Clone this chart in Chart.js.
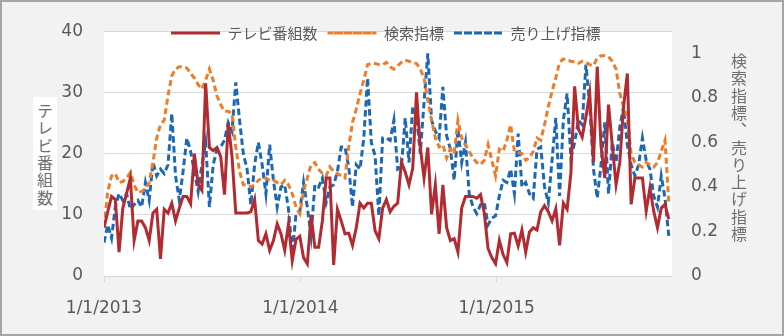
<!DOCTYPE html>
<html lang="ja">
<head>
    <meta charset="UTF-8">
    <title>テレビ番組数と検索指標・売り上げ指標</title>
    <script src="https://cdn.jsdelivr.net/npm/chart.js"></script>
    <style>
        body {
            margin: 0;
            background: #ffffff;
        }
        #wrap {
            position: relative;
            width: 784px;
            height: 336px;
        }
        .axis-title {
            position: absolute;
            writing-mode: vertical-rl;
            font-family: "Noto Sans CJK JP", sans-serif;
            font-size: 16px;
            letter-spacing: 1.3px;
            line-height: 24px;
            width: 24px;
            color: #6f6f6f;
        }
        #leftTitle {
            left: 33px;
            top: 97px;
            height: 107px;
            padding-top: 6px;
            background: #ffffff;
        }
        #rightTitle {
            left: 727px;
            top: 53px;
        }
    </style>
</head>
<body>
<div id="wrap">
    <canvas id="chart" width="784" height="336"></canvas>
    <div class="axis-title" id="leftTitle">テレビ番組数</div>
    <div class="axis-title" id="rightTitle">検索指標、売り上げ指標</div>
</div>

<script>
    // weekly points, counted in days from 1/1/2013
    const weekStep = 7;

    // テレビ番組数 (left axis)
    const tvPrograms = [
        7.9, 10.5, 13.0, 12.5, 3.9, 11.1, 13.5, 16.0, 5.8, 9.0, 9.0, 7.9, 5.8, 10.3, 10.9, 2.8, 10.9, 10.3, 11.9, 9.0, 11.1, 13.0, 13.0, 11.8, 20.0, 15.0,
        14.0, 31.5, 21, 20.5, 21, 19.5, 13.3, 25, 19.5, 10.3, 10.3, 10.3, 10.3, 10.5, 12.5, 5.8, 5.2, 6.9, 4.2, 5.8, 8.5, 6.9, 4.2, 8.5, 2.5,
        6.0, 6.5, 3.0, 2.0, 10.0, 4.7, 4.7, 9.0, 16, 16, 1.8, 10.9, 9.0, 6.9, 7.0, 5.0, 7.9, 11.9, 11.1, 11.9, 11.9, 7.4, 6.1, 11.1, 12.5,
        10.5, 11.4, 11.9, 18.6, 17.0, 14.9, 17.6, 30.0, 21, 16, 21, 10.1, 14.9, 6.9, 14.9, 7.9, 5.8, 6.1, 3.9, 11.1, 13, 13, 13, 12.7, 13.3, 10.3,
        4.5, 3.0, 2.0, 5.8, 3.5, 2.2, 6.9, 7.0, 4.9, 7.5, 3.9, 7.2, 7.9, 7.5, 10.5, 11.5, 10.5, 9.0, 11.0, 5.0, 11.9, 10.9, 16.8, 31.0, 24.0,
        22.7, 26, 29.9, 18.6, 34.2, 21.3, 16, 28, 21.3, 14.9, 18.6, 27.7, 33.1, 11.7, 16, 16, 16, 10.6, 14.4, 10.6, 7.9, 11.1, 11.7, 9.3
    ];

    // 検索指標 (right axis)
    const searchIndex = [
        0.22, 0.38, 0.45, 0.46, 0.42, 0.425, 0.44, 0.465, 0.41, 0.375, 0.38, 0.39, 0.42, 0.51, 0.62, 0.68, 0.70, 0.81, 0.90, 0.93, 0.94, 0.94, 0.935, 0.91, 0.89, 0.86,
        0.84, 0.88, 0.93, 0.88, 0.81, 0.77, 0.74, 0.74, 0.73, 0.58, 0.47, 0.41, 0.41, 0.40, 0.41, 0.43, 0.44, 0.44, 0.43, 0.43, 0.42, 0.41, 0.43, 0.41, 0.37,
        0.31, 0.28, 0.38, 0.44, 0.50, 0.51, 0.48, 0.46, 0.45, 0.49, 0.47, 0.46, 0.45, 0.44, 0.58, 0.69, 0.75, 0.82, 0.88, 0.95, 0.955, 0.955, 0.95, 0.95, 0.96,
        0.94, 0.93, 0.945, 0.96, 0.97, 0.965, 0.96, 0.955, 0.93, 0.89, 0.79, 0.70, 0.62, 0.58, 0.59, 0.53, 0.57, 0.55, 0.70, 0.62, 0.59, 0.56, 0.53, 0.51, 0.50, 0.52,
        0.59, 0.52, 0.45, 0.57, 0.56, 0.61, 0.68, 0.56, 0.555, 0.55, 0.52, 0.53, 0.56, 0.62, 0.61, 0.68, 0.76, 0.83, 0.89, 0.96, 0.975, 0.97, 0.965, 0.963, 0.956,
        0.965, 0.96, 0.95, 0.945, 0.98, 0.99, 0.99, 0.985, 0.965, 0.93, 0.82, 0.76, 0.71, 0.55, 0.51, 0.50, 0.49, 0.51, 0.50, 0.49, 0.51, 0.56, 0.61, 0.33
    ];

    // 売り上げ指標 (right axis)
    const salesIndex = [
        0.15, 0.23, 0.17, 0.31, 0.37, 0.34, 0.37, 0.30, 0.32, 0.34, 0.31, 0.42, 0.34, 0.51, 0.45, 0.48, 0.46, 0.50, 0.73, 0.45, 0.34, 0.47, 0.62, 0.56, 0.47, 0.38,
        0.50, 0.60, 0.31, 0.50, 0.57, 0.58, 0.61, 0.69, 0.65, 0.87, 0.70, 0.55, 0.48, 0.32, 0.50, 0.60, 0.50, 0.37, 0.59, 0.43, 0.31, 0.40, 0.41, 0.30, 0.10,
        0.28, 0.29, 0.42, 0.31, 0.18, 0.41, 0.40, 0.44, 0.33, 0.40, 0.41, 0.47, 0.58, 0.58, 0.49, 0.31, 0.50, 0.48, 0.62, 0.89, 0.60, 0.54, 0.27, 0.62, 0.62,
        0.61, 0.70, 0.48, 0.49, 0.71, 0.51, 0.76, 0.72, 0.55, 0.78, 1.00, 0.70, 0.65, 0.62, 0.85, 0.63, 0.57, 0.43, 0.66, 0.51, 0.60, 0.37, 0.31, 0.28, 0.32, 0.33,
        0.23, 0.26, 0.27, 0.36, 0.43, 0.42, 0.48, 0.37, 0.64, 0.40, 0.42, 0.37, 0.35, 0.57, 0.58, 0.40, 0.33, 0.52, 0.71, 0.36, 0.70, 0.82, 0.53, 0.60, 0.70,
        0.68, 0.95, 0.77, 0.48, 0.35, 0.50, 0.69, 0.37, 0.60, 0.51, 0.67, 0.76, 0.59, 0.50, 0.45, 0.50, 0.62, 0.52, 0.48, 0.36, 0.31, 0.45, 0.35, 0.18
    ];

    const seriesNames = ['テレビ番組数', '検索指標', '売り上げ指標'];
    const xTickDays = [0, 365, 730];
    const xTickLabels = ['1/1/2013', '1/1/2014', '1/1/2015'];
    const xMaxDay = 1056;

    const toPoints = (arr) => arr.map((v, i) => ({ x: i * weekStep, y: v }));

    // background, frame and white plot area
    const framePlugin = {
        id: 'frame',
        beforeDraw(chart) {
            const { ctx, chartArea: a, width, height } = chart;
            ctx.save();
            ctx.fillStyle = '#f2f2f2';
            ctx.fillRect(0, 0, width, height);
            ctx.strokeStyle = '#a6a6a6';
            ctx.lineWidth = 2;
            ctx.strokeRect(1, 1, width - 2, height - 2);
            ctx.fillStyle = '#ffffff';
            ctx.fillRect(a.left, a.top, a.right - a.left, a.bottom - a.top);
            ctx.restore();
        }
    };

    // put the legend inside the top of the plot area
    const legendStartX = 171;
    const legendTop = 15.5;
    const legendMover = {
        id: 'legendMover',
        afterLayout(chart) {
            const lg = chart.legend;
            if (!lg || !lg.lineWidths) return;
            const pad = lg.options.labels.padding;
            const start = (lg.left + pad + lg.right - lg.lineWidths[0]) / 2;
            const dx = legendStartX - start;
            lg.left += dx;
            lg.right += dx;
            const h = lg.height;
            lg.top = legendTop;
            lg.bottom = legendTop + h;
        }
    };

    Chart.defaults.font.family = 'DejaVu Sans';
    Chart.defaults.color = '#595959';

    const ctx = document.getElementById('chart').getContext('2d');
    new Chart(ctx, {
        type: 'line',
        data: {
            datasets: [
                {
                    label: seriesNames[0],
                    data: toPoints(tvPrograms),
                    yAxisID: 'y',
                    borderColor: '#b22b31',
                    backgroundColor: '#b22b31',
                    borderWidth: 3,
                    pointRadius: 0,
                    tension: 0
                },
                {
                    label: seriesNames[1],
                    data: toPoints(searchIndex),
                    yAxisID: 'y1',
                    borderColor: '#ee7d2a',
                    backgroundColor: '#ee7d2a',
                    borderWidth: 3,
                    borderDash: [6, 3.5],
                    pointRadius: 0,
                    tension: 0
                },
                {
                    label: seriesNames[2],
                    data: toPoints(salesIndex),
                    yAxisID: 'y1',
                    borderColor: '#1c68b3',
                    backgroundColor: '#1c68b3',
                    borderWidth: 3,
                    borderDash: [6.5, 3.5],
                    pointRadius: 0,
                    tension: 0
                }
            ]
        },
        options: {
            responsive: false,
            animation: false,
            devicePixelRatio: 1,
            layout: { padding: { top: -8, left: 0, right: 0, bottom: 0 } },
            plugins: {
                tooltip: { enabled: false },
                legend: {
                    position: 'top',
                    labels: {
                        boxWidth: 49,
                        boxHeight: 0,
                        padding: 10,
                        color: '#595959',
                        font: { family: '"Noto Sans CJK JP"', size: 15 }
                    }
                }
            },
            scales: {
                x: {
                    type: 'linear',
                    min: 0,
                    max: xMaxDay,
                    afterBuildTicks: (scale) => {
                        scale.ticks = xTickDays.map(v => ({ value: v }));
                    },
                    afterFit: (scale) => { scale.height = 60; },
                    ticks: {
                        autoSkip: false,
                        maxRotation: 0,
                        padding: 16,
                        font: { size: 17 },
                        callback: (value) => {
                            const k = xTickDays.indexOf(value);
                            return k >= 0 ? xTickLabels[k] : '';
                        }
                    },
                    grid: {
                        drawOnChartArea: false,
                        drawTicks: true,
                        tickLength: 6,
                        color: '#d9d9d9'
                    },
                    border: { display: true, color: '#d9d9d9' }
                },
                y: {
                    position: 'left',
                    min: 0,
                    max: 40,
                    afterFit: (scale) => { scale.width = 104; },
                    ticks: { stepSize: 10, padding: 21, font: { size: 17 } },
                    grid: { color: '#d9d9d9', drawTicks: false },
                    border: { display: false }
                },
                y1: {
                    position: 'right',
                    min: 0,
                    max: 1.1,
                    afterFit: (scale) => { scale.width = 112; },
                    ticks: {
                        stepSize: 0.2,
                        includeBounds: false,
                        padding: 19,
                        font: { size: 17 },
                        callback: (value) => String(Number(value.toFixed(1)))
                    },
                    grid: { display: false, drawTicks: false },
                    border: { display: false }
                }
            }
        },
        plugins: [framePlugin, legendMover]
    });
</script>
</body>
</html>
